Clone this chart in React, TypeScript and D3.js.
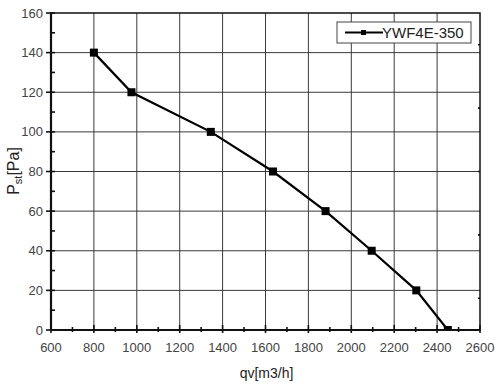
import React from "react";
import * as d3 from "d3";

// fan curve YWF4E-350
const flow = [800, 975, 1345, 1635, 1880, 2095, 2303, 2450];
const pressure = [140, 120, 100, 80, 60, 40, 20, 0];
const xTicks = [600, 800, 1000, 1200, 1400, 1600, 1800, 2000, 2200, 2400, 2600];
const xMinor = [700, 900, 1100, 1300, 1500, 1700, 1900, 2100, 2300, 2500];
const yTicks = [0, 20, 40, 60, 80, 100, 120, 140, 160];
const yMinor = [10, 30, 50, 70, 90, 110, 130, 150];
const rightMinor = [16, 48, 80, 112, 144];
const seriesName = "YWF4E-350";

const W = 500;
const H = 387;
const m = { left: 51, right: 20, top: 13, bottom: 57 };

export default function App() {
  const x = d3.scaleLinear().domain([600, 2600]).range([m.left, W - m.right]);
  const y = d3.scaleLinear().domain([0, 160]).range([H - m.bottom, m.top]);

  const line = d3
    .line<number>()
    .x((d, i) => x(flow[i]))
    .y((d) => y(d));

  const font = "Arial, 'Liberation Sans', sans-serif";
  const x0 = x(600);
  const x1 = x(2600);
  const y0 = y(0);
  const y1 = y(160);

  return (
    <svg
      width={W}
      height={H}
      style={{ position: "absolute", left: 0, top: 0, background: "#fff" }}
      fontFamily={font}
    >
      <defs>
        <clipPath id="plot">
          <rect x={x0} y={y1} width={x1 - x0} height={y0 - y1} />
        </clipPath>
      </defs>

      {/* grid */}
      <g stroke="#3a3a3a" strokeWidth={1}>
        {xTicks.slice(1, -1).map((t) => (
          <line key={"gx" + t} x1={x(t)} x2={x(t)} y1={y1} y2={y0} />
        ))}
        {yTicks.slice(1, -1).map((t) => (
          <line key={"gy" + t} x1={x0} x2={x1} y1={y(t)} y2={y(t)} />
        ))}
      </g>

      {/* series */}
      <g clipPath="url(#plot)">
        <path d={line(pressure) || ""} fill="none" stroke="#000" strokeWidth={2.2} />
        {pressure.map((p, i) => (
          <rect key={"pt" + i} x={x(flow[i]) - 4} y={y(p) - 4} width={8} height={8} fill="#000" />
        ))}
      </g>

      {/* frame */}
      <rect x={x0} y={y1} width={x1 - x0} height={y0 - y1} fill="none" stroke="#111" strokeWidth={1.5} />
      <line x1={x0} x2={x1} y1={y0} y2={y0} stroke="#111" strokeWidth={2.2} />
      <line x1={x0} x2={x0} y1={y1} y2={y0} stroke="#111" strokeWidth={2.2} />

      {/* ticks */}
      <g stroke="#111" strokeWidth={1.6}>
        {xTicks.map((t) => (
          <line key={"tx" + t} x1={x(t)} x2={x(t)} y1={y0 - 5} y2={y0 + 3} />
        ))}
        {xMinor.map((t) => (
          <line key={"mx" + t} x1={x(t)} x2={x(t)} y1={y0 - 3} y2={y0 + 2} />
        ))}
        {yTicks.map((t) => (
          <line key={"ty" + t} x1={x0 - 5} x2={x0 + 4} y1={y(t)} y2={y(t)} />
        ))}
        {yMinor.map((t) => (
          <line key={"my" + t} x1={x0 - 1} x2={x0 + 4} y1={y(t)} y2={y(t)} />
        ))}
        {rightMinor.map((t) => (
          <line key={"ry" + t} x1={x1 - 2} x2={x1} y1={y(t)} y2={y(t)} />
        ))}
      </g>

      {/* tick labels */}
      <g fill="#444" fontSize={13}>
        {xTicks.map((t) => (
          <text key={"lx" + t} x={x(t)} y={y0 + 22} textAnchor="middle">
            {t}
          </text>
        ))}
        {yTicks.map((t) => (
          <text key={"ly" + t} x={x0 - 8} y={y(t) + 4.5} textAnchor="end">
            {t}
          </text>
        ))}
      </g>

      {/* axis titles */}
      <text x={(x0 + x1) / 2 + 1} y={378} textAnchor="middle" fontSize={14} fill="#222">
        qv[m3/h]
      </text>
      <text transform="translate(19,171) rotate(-90)" textAnchor="middle" fontSize={16} fill="#222">
        P<tspan fontSize={11} dy={3}>st</tspan>
        <tspan dy={-3}>[Pa]</tspan>
      </text>

      {/* legend */}
      <g>
        <rect x={337} y={22} width={134} height={21} fill="#fff" stroke="#444" strokeWidth={1} />
        <line x1={345} x2={383} y1={32.5} y2={32.5} stroke="#000" strokeWidth={2} />
        <rect x={361} y={30} width={5} height={5} fill="#000" />
        <text x={382} y={38} fontSize={15} fill="#222">
          {seriesName}
        </text>
      </g>
    </svg>
  );
}
